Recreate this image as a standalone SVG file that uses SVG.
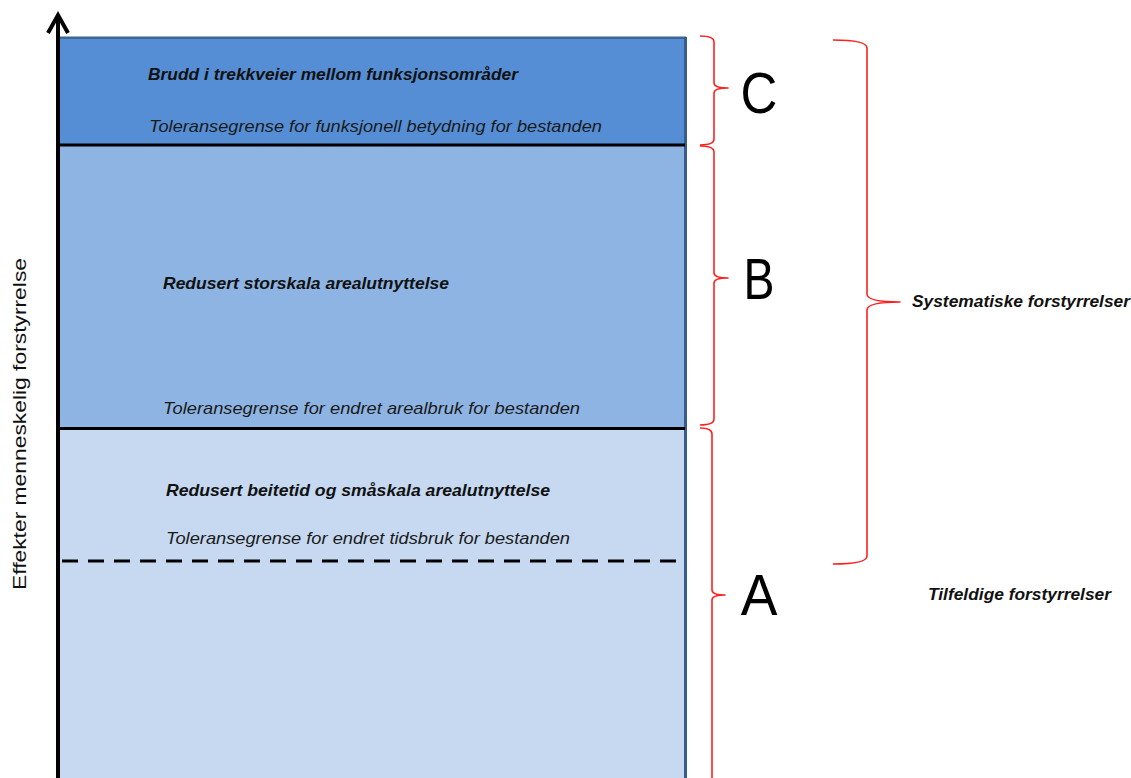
<svg xmlns="http://www.w3.org/2000/svg" width="1131" height="778" viewBox="0 0 1131 778">
<style>
.t{font-family:"Liberation Sans",Arial,sans-serif;fill:#111}
.b{font-weight:bold;font-style:italic;font-size:17px}
.i{font-style:italic;font-size:17px;fill:#1a1a1a}
.big{font-family:"Liberation Sans",Arial,sans-serif;font-size:58px;fill:#000;text-anchor:middle}
.brace{fill:none;stroke:#ff2020;stroke-width:1.6;stroke-linejoin:round}
.sep{stroke:#000;stroke-width:3}
</style>
<rect width="1131" height="778" fill="#fff"/>
<g id="zone-A">
<rect x="60" y="429" width="626" height="360" fill="#C6D9F1"/>
<line x1="62" y1="561" x2="684" y2="561" stroke="#000" stroke-width="3" stroke-dasharray="16 10"/>
<text class="t b" x="166" y="496" textLength="384" lengthAdjust="spacingAndGlyphs">Redusert beitetid og småskala arealutnyttelse</text>
<text class="t i" x="166" y="544" textLength="404" lengthAdjust="spacingAndGlyphs">Toleransegrense for endret tidsbruk for bestanden</text>
</g>
<g id="zone-B">
<rect x="60" y="145" width="626" height="284" fill="#8EB4E3"/>
<text class="t b" x="163" y="289" textLength="286" lengthAdjust="spacingAndGlyphs">Redusert storskala arealutnyttelse</text>
<text class="t i" x="163" y="414" textLength="417" lengthAdjust="spacingAndGlyphs">Toleransegrense for endret arealbruk for bestanden</text>
</g>
<g id="zone-C">
<rect x="60" y="37" width="626" height="108" fill="#558ED5"/>
<text class="t b" x="148" y="80" textLength="370" lengthAdjust="spacingAndGlyphs">Brudd i trekkveier mellom funksjonsområder</text>
<text class="t i" x="149" y="132" textLength="453" lengthAdjust="spacingAndGlyphs">Toleransegrense for funksjonell betydning for bestanden</text>
</g>
<g id="frame">
<line x1="58" y1="37.8" x2="686" y2="37.8" stroke="#3D6596" stroke-width="2.5"/>
<line x1="685.5" y1="37" x2="685.5" y2="778" stroke="#385D8A" stroke-width="3"/>
<line class="sep" x1="60" y1="145" x2="685" y2="145"/>
<line class="sep" x1="60" y1="428.5" x2="685" y2="428.5"/>
</g>
<g id="axis">
<line x1="58" y1="16" x2="58" y2="778" stroke="#000" stroke-width="4"/>
<polyline points="48,33 58,15 68,33" fill="none" stroke="#000" stroke-width="4" stroke-linejoin="miter"/>
<text class="t" x="0" y="0" font-size="19" transform="translate(26,590) rotate(-90)" textLength="332" lengthAdjust="spacingAndGlyphs" fill="#000">Effekter menneskelig forstyrrelse</text>
</g>
<g id="connectors">
<path class="brace" d="M700,36 Q714,36 714,42 L714,83 Q714,88 728,88 Q714,88 714,93 L714,139 Q714,145 700,145"/>
<path class="brace" d="M700,146 Q714,146 714,152 L714,273 Q714,278 728,278 Q714,278 714,283 L714,419 Q714,425 700,425"/>
<path class="brace" d="M700,428 Q712,428 712,434 L712,590 Q712,595 725,595 Q712,595 712,600 L712,790"/>
<path class="brace" d="M833,40 Q867,40 867,48 L867,294 Q867,302 900,302 Q867,302 867,310 L867,556 Q867,564 833,564"/>
</g>
<g id="label-C"><text class="big" transform="translate(759,113) scale(0.88,1)">C</text></g>
<g id="label-B"><text class="big" transform="translate(759,299) scale(0.8,1)">B</text></g>
<g id="label-A"><text class="big" transform="translate(759,615) scale(0.95,1)">A</text></g>
<g id="label-systematiske"><text class="t b" x="912" y="307" style="font-size:16px" textLength="218" lengthAdjust="spacingAndGlyphs">Systematiske forstyrrelser</text></g>
<g id="label-tilfeldige"><text class="t b" x="928" y="600" style="font-size:16px" textLength="183" lengthAdjust="spacingAndGlyphs">Tilfeldige forstyrrelser</text></g>
</svg>
